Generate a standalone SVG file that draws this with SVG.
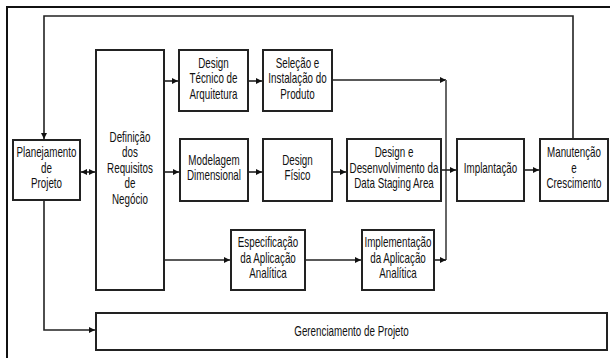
<svg xmlns="http://www.w3.org/2000/svg" width="610" height="358" viewBox="0 0 610 358">
  <defs>
    <marker id="arrow" markerUnits="userSpaceOnUse" markerWidth="7" markerHeight="7" refX="6" refY="3" orient="auto-start-reverse">
      <path d="M0,0 L6,3 L0,6 z" fill="#111"/>
    </marker>
    <style>
      .box { fill: #ffffff; stroke: #222; stroke-width: 2; }
      .lbl { font-family: "Liberation Sans", Arial, sans-serif; font-size: 15px; fill: #111; text-anchor: middle; }
      .wire { fill: none; stroke: #222; stroke-width: 1.6; }
      .bus { fill: none; stroke: #666; stroke-width: 2; }
      .frame { fill: none; stroke: #111; stroke-width: 2; }
    </style>
  </defs>

  <rect x="0" y="0" width="610" height="358" fill="#ffffff"/>
  <path class="frame" d="M7,358 V7 H610"/>

  <!-- connectors -->
  <g id="connectors">
    <path class="wire" d="M573,139 V16 H44 V139" marker-end="url(#arrow)"/>
    <path class="wire" d="M81,172 H95" marker-start="url(#arrow)" marker-end="url(#arrow)"/>
    <path class="wire" d="M164,81 H178" marker-end="url(#arrow)"/>
    <path class="wire" d="M164,172 H179" marker-end="url(#arrow)"/>
    <path class="wire" d="M164,260 H230" marker-end="url(#arrow)"/>
    <path class="wire" d="M248,81 H262" marker-end="url(#arrow)"/>
    <path class="wire" d="M248,172 H262" marker-end="url(#arrow)"/>
    <path class="wire" d="M332,172 H346" marker-end="url(#arrow)"/>
    <path class="wire" d="M332,80 H446" marker-end="url(#arrow)"/>
    <path class="bus" d="M446,80 V260"/>
    <path class="wire" d="M305,260 H361" marker-end="url(#arrow)"/>
    <path class="wire" d="M434,260 H446" marker-end="url(#arrow)"/>
    <path class="wire" d="M441,170 H456" marker-end="url(#arrow)"/>
    <path class="wire" d="M524,170 H539" marker-end="url(#arrow)"/>
    <path class="wire" d="M44,200 V330 H95" marker-end="url(#arrow)"/>
  </g>

  <g id="planejamento">
    <rect class="box" x="13" y="140" width="67" height="60"/>
    <text class="lbl" transform="scale(0.655 1)" x="70.99" y="157.5">Planejamento<tspan x="70.99" dy="15.5">de</tspan><tspan x="70.99" dy="15.5">Projeto</tspan></text>
  </g>

  <g id="definicao">
    <rect class="box" x="96" y="50" width="68" height="240"/>
    <text class="lbl" transform="scale(0.655 1)" x="198.47" y="142">Definição<tspan x="198.47" dy="15.5">dos</tspan><tspan x="198.47" dy="15.5">Requisitos</tspan><tspan x="198.47" dy="15.5">de</tspan><tspan x="198.47" dy="15.5">Negócio</tspan></text>
  </g>

  <g id="design-tecnico">
    <rect class="box" x="179" y="50" width="69" height="61"/>
    <text class="lbl" transform="scale(0.655 1)" x="325.95" y="68">Design<tspan x="325.95" dy="15.5">Técnico de</tspan><tspan x="325.95" dy="15.5">Arquitetura</tspan></text>
  </g>

  <g id="selecao">
    <rect class="box" x="263" y="50" width="69" height="61"/>
    <text class="lbl" transform="scale(0.655 1)" x="454.2" y="68">Seleção e<tspan x="454.2" dy="15.5">Instalação do</tspan><tspan x="454.2" dy="15.5">Produto</tspan></text>
  </g>

  <g id="modelagem">
    <rect class="box" x="180" y="139" width="68" height="62"/>
    <text class="lbl" transform="scale(0.655 1)" x="326.72" y="165">Modelagem<tspan x="326.72" dy="15.5">Dimensional</tspan></text>
  </g>

  <g id="design-fisico">
    <rect class="box" x="263" y="139" width="69" height="62"/>
    <text class="lbl" transform="scale(0.655 1)" x="454.2" y="165">Design<tspan x="454.2" dy="15.5">Físico</tspan></text>
  </g>

  <g id="staging">
    <rect class="box" x="347" y="139" width="94" height="62"/>
    <text class="lbl" transform="scale(0.655 1)" x="601.53" y="157.5">Design e<tspan x="601.53" dy="15.5">Desenvolvimento da</tspan><tspan x="601.53" dy="15.5">Data Staging Area</tspan></text>
  </g>

  <g id="implantacao">
    <rect class="box" x="457" y="139" width="67" height="62"/>
    <text class="lbl" transform="scale(0.655 1)" x="748.85" y="173">Implantação</text>
  </g>

  <g id="manutencao">
    <rect class="box" x="540" y="139" width="68" height="62"/>
    <text class="lbl" transform="scale(0.655 1)" x="876.34" y="157.5">Manutenção<tspan x="876.34" dy="15.5">e</tspan><tspan x="876.34" dy="15.5">Crescimento</tspan></text>
  </g>

  <g id="especificacao">
    <rect class="box" x="231" y="230" width="74" height="60"/>
    <text class="lbl" transform="scale(0.655 1)" x="409.16" y="247.5">Especificação<tspan x="409.16" dy="15.5">da Aplicação</tspan><tspan x="409.16" dy="15.5">Analítica</tspan></text>
  </g>

  <g id="implementacao">
    <rect class="box" x="362" y="230" width="72" height="60"/>
    <text class="lbl" transform="scale(0.655 1)" x="607.63" y="247.5">Implementação<tspan x="607.63" dy="15.5">da Aplicação</tspan><tspan x="607.63" dy="15.5">Analítica</tspan></text>
  </g>

  <g id="gerenciamento">
    <rect class="box" x="96" y="313" width="511" height="37"/>
    <text class="lbl" transform="scale(0.655 1)" x="536.64" y="336.5">Gerenciamento de Projeto</text>
  </g>
</svg>
